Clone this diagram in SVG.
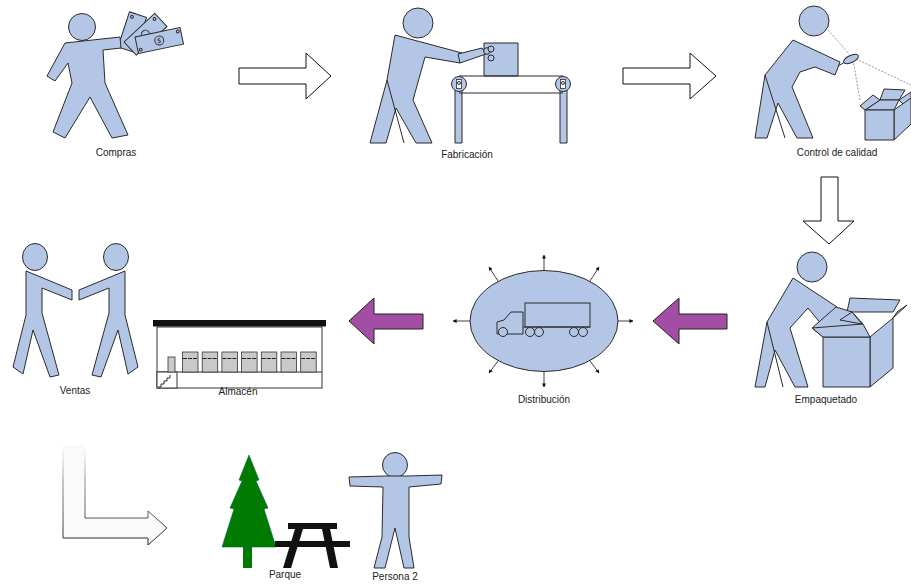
<svg xmlns="http://www.w3.org/2000/svg" width="911" height="584" viewBox="0 0 911 584">
  <defs>
    <style>
      .fig { fill: #b3c6e6; stroke: #2b2b2b; stroke-width: 1; stroke-linejoin: round; }
      .ln { fill: none; stroke: #2b2b2b; stroke-width: 1; }
      .lbl { font-family: "Liberation Sans", Arial, sans-serif; font-size: 10px; fill: #222; text-anchor: middle; }
      .blk { fill: #111; stroke: none; }
      .bigarrow { fill: #ffffff; stroke: #111; stroke-width: 1; stroke-linejoin: miter; }
      .purple { fill: #a24ea4; stroke: #222; stroke-width: 1; }
      .crate { fill: #c9c9c9; stroke: #333; stroke-width: 0.8; }
      .dot { fill: none; stroke: #777; stroke-width: 0.8; stroke-dasharray: 2 1.5; }
    </style>
    <marker id="tip" viewBox="0 0 10 10" refX="9" refY="5" markerWidth="5" markerHeight="5" orient="auto">
      <path d="M0,0 L10,5 L0,10 z" fill="#111"/>
    </marker>
    <linearGradient id="fade" x1="0" y1="445" x2="0" y2="545" gradientUnits="userSpaceOnUse">
      <stop offset="0" stop-color="#999" stop-opacity="0"/>
      <stop offset="0.35" stop-color="#777" stop-opacity="0.8"/>
      <stop offset="1" stop-color="#222" stop-opacity="1"/>
    </linearGradient>
  </defs>

  <rect width="911" height="584" fill="#ffffff"/>

  <!-- Compras: walking buyer holding a fan of bank notes -->
  <g id="compras">
    <g transform="translate(118,47) rotate(-72)">
      <rect x="0" y="0" width="37" height="18" class="fig"/>
      <circle cx="33" cy="4" r="1.4" class="ln"/>
    </g>
    <g transform="translate(124,42) rotate(-43)">
      <rect x="0" y="0" width="42" height="18" class="fig"/>
      <circle cx="21" cy="9" r="4" class="ln"/>
      <circle cx="38" cy="4" r="1.4" class="ln"/>
    </g>
    <g transform="translate(135,37) rotate(-12)">
      <rect x="0" y="0" width="46" height="17" class="fig"/>
      <circle cx="23" cy="8.5" r="4.5" class="ln"/>
      <text x="23" y="11" font-family="Liberation Sans, sans-serif" font-size="7" text-anchor="middle" fill="#222">$</text>
      <circle cx="3" cy="13.5" r="1.4" class="ln"/>
      <circle cx="43" cy="3.5" r="1.4" class="ln"/>
    </g>
    <circle cx="82" cy="27" r="13.5" class="fig"/>
    <polygon class="fig" points="65,43 120,37 121,48 103,50 105,83 128,135 112,138 90,97 65,138 53,132 72,83 68,63 55,81 47,76"/>
    <text class="lbl" x="116" y="156">Compras</text>
  </g>

  <!-- Fabricación: worker at a conveyor belt -->
  <g id="fabricacion">
    <rect x="484" y="43" width="34" height="33" class="fig"/>
    <rect x="455" y="83" width="7" height="60" class="fig"/>
    <rect x="560" y="83" width="7" height="60" class="fig"/>
    <line x1="459" y1="76" x2="563" y2="76" class="ln"/>
    <line x1="459" y1="93" x2="563" y2="93" class="ln"/>
    <circle cx="459" cy="84" r="7.5" class="fig"/>
    <circle cx="563" cy="84" r="7.5" class="fig"/>
    <rect x="456.5" y="79.5" width="5" height="9" fill="#fff" stroke="#2b2b2b" stroke-width="0.8"/>
    <rect x="560.5" y="79.5" width="5" height="9" fill="#fff" stroke="#2b2b2b" stroke-width="0.8"/>
    <circle cx="459" cy="83" r="1.5" class="ln"/>
    <circle cx="563" cy="83" r="1.5" class="ln"/>
    <circle cx="418" cy="23" r="15" class="fig"/>
    <polygon class="fig" points="395,35 462,53 460,63 425,57 413,100 432,143 416,143 396,108 386,143 370,143 387,80"/>
    <line x1="387" y1="80" x2="404" y2="143" class="ln"/>
    <path class="fig" d="M458,54 L482,48 L486,54 L460,63 z"/>
    <circle cx="487" cy="51" r="3.3" class="fig"/>
    <circle cx="491" cy="49" r="3" class="fig"/>
    <circle cx="491" cy="58" r="3" class="fig"/>
    <text class="lbl" x="467" y="158">Fabricación</text>
  </g>

  <!-- Control de calidad: inspector with a magnifier over an open box -->
  <g id="control">
    <line x1="828" y1="30" x2="849" y2="54" class="dot"/>
    <line x1="853" y1="60" x2="860" y2="100" class="dot"/>
    <line x1="856" y1="59" x2="911" y2="85" class="dot"/>
    <polygon class="fig" points="880,100 884,89 905,90 899,100"/>
    <polygon class="fig" points="899,100 911,92 911,100 903,104"/>
    <polygon class="fig" points="894,110 911,98 911,124 894,140"/>
    <polygon class="fig" points="865,110 880,100 899,100 894,110"/>
    <polygon class="fig" points="860,106 873,95 880,100 865,110"/>
    <rect x="865" y="110" width="29" height="30" class="fig"/>
    <circle cx="814" cy="21" r="15" class="fig"/>
    <polygon class="fig" points="793,40 840,62 835,75 815,67 800,72 792,87 813,138 797,138 778,103 767,138 755,138 765,75"/>
    <line x1="765" y1="75" x2="785" y2="138" class="ln"/>
    <line x1="838" y1="66" x2="845" y2="62" class="ln"/>
    <ellipse cx="851" cy="59" rx="8" ry="3.5" transform="rotate(-25 851 59)" class="fig"/>
    <text class="lbl" x="837" y="156">Control de calidad</text>
  </g>

  <!-- Empaquetado: worker packing a large box -->
  <g id="empaquetado">
    <polygon class="fig" points="850,298 900,300 893,312 847,312"/>
    <polygon class="fig" points="893,318 907,305 897,312"/>
    <polygon class="fig" points="870,337 893,318 893,368 870,387"/>
    <circle cx="812" cy="267" r="15" class="fig"/>
    <polygon class="fig" points="793,278 837,307 822,325 808,308 790,328 808,387 795,387 775,350 765,387 755,387 767,322"/>
    <line x1="767" y1="322" x2="783" y2="387" class="ln"/>
    <polygon class="fig" points="812,328 836,307 852,312 863,324 823,337"/>
    <polygon class="fig" points="840,320 852,312 862,324"/>
    <rect x="823" y="337" width="47" height="50" class="fig"/>
    <polygon class="fig" points="823,337 812,328 863,324 870,337"/>
    <text class="lbl" x="826" y="403">Empaquetado</text>
  </g>

  <!-- Distribución: lorry inside an oval with outward arrows -->
  <g id="distribucion">
    <ellipse cx="544" cy="321" rx="74" ry="50.5" class="fig"/>
    <g class="ln">
      <path d="M497,334 L497,322 L504,320 L511,312 L523,312 L523,334 z"/>
      <rect x="525" y="303" width="65" height="24"/>
      <line x1="523" y1="327" x2="590" y2="327"/>
      <circle cx="503" cy="332" r="4.5" fill="#b3c6e6"/>
      <circle cx="530" cy="332" r="4.5" fill="#b3c6e6"/>
      <circle cx="539" cy="332" r="4.5" fill="#b3c6e6"/>
      <circle cx="574" cy="332" r="4.5" fill="#b3c6e6"/>
      <circle cx="583" cy="332" r="4.5" fill="#b3c6e6"/>
    </g>
    <g stroke="#111" stroke-width="0.8" marker-end="url(#tip)">
      <line x1="544" y1="270" x2="544" y2="255"/>
      <line x1="544" y1="372" x2="544" y2="387"/>
      <line x1="470" y1="321" x2="453" y2="321"/>
      <line x1="618" y1="321" x2="633" y2="321"/>
      <line x1="498" y1="281" x2="489" y2="267"/>
      <line x1="590" y1="281" x2="599" y2="267"/>
      <line x1="498" y1="361" x2="489" y2="373"/>
      <line x1="590" y1="361" x2="599" y2="373"/>
    </g>
    <text class="lbl" x="544" y="403">Distribución</text>
  </g>

  <!-- Almacén: warehouse with a row of stored goods -->
  <g id="almacen">
    <rect x="157" y="327" width="165" height="61" fill="#fff" stroke="#333" stroke-width="1"/>
    <line x1="157" y1="372" x2="322" y2="372" class="ln"/>
    <rect x="157" y="372" width="20" height="16" fill="#fff" stroke="#333" stroke-width="1"/>
    <path class="ln" d="M158,387 L161,387 L161,384 L164,384 L164,381 L167,381 L167,378 L170,378 L170,375" stroke-width="0.8"/>
    <rect x="168" y="357" width="7" height="15" class="crate"/>
    <g id="crates">
      <rect x="182.5" y="352" width="15.5" height="20" class="crate"/>
      <rect x="202.2" y="352" width="15.5" height="20" class="crate"/>
      <rect x="221.9" y="352" width="15.5" height="20" class="crate"/>
      <rect x="241.6" y="352" width="15.5" height="20" class="crate"/>
      <rect x="261.3" y="352" width="15.5" height="20" class="crate"/>
      <rect x="281.0" y="352" width="15.5" height="20" class="crate"/>
      <rect x="300.7" y="352" width="15.5" height="20" class="crate"/>
      <path d="M183,358.5 H198 M202.7,358.5 H217.7 M222.4,358.5 H237.4 M242.1,358.5 H257.1 M261.8,358.5 H276.8 M281.5,358.5 H296.5 M301.2,358.5 H316.2" stroke="#222" stroke-width="1" stroke-dasharray="4 1"/>
    </g>
    <rect x="153" y="320" width="173" height="6.5" class="blk"/>
    <text class="lbl" x="238" y="395">Almacén</text>
  </g>

  <!-- Ventas: two people shaking hands -->
  <g id="ventas">
    <ellipse cx="35" cy="257" rx="12.5" ry="13.5" class="fig"/>
    <polygon class="fig" points="26,271 72,290 72,300 42,288 42,313 59,375 50,377 33,330 23,374 13,367 26,315"/>
    <g transform="translate(151,0) scale(-1,1)">
      <ellipse cx="35" cy="257" rx="12.5" ry="13.5" class="fig"/>
      <polygon class="fig" points="26,271 72,290 72,300 42,288 42,313 59,375 50,377 33,330 23,374 13,367 26,315"/>
    </g>
    <text class="lbl" x="75" y="394">Ventas</text>
  </g>

  <!-- Parque: fir tree and picnic table -->
  <g id="parque">
    <rect x="243" y="545" width="9" height="23" fill="#007a00"/>
    <polygon fill="#007a00" stroke="#064" stroke-width="0.6" points="249,455 259,480 256,481 268,508 264,509 276,547 222,547 234,509 230,508 242,481 239,480"/>
    <rect x="288" y="523" width="49" height="6" class="blk"/>
    <rect x="275" y="541" width="75" height="6" class="blk"/>
    <polygon class="blk" points="295,529 303,529 291,568 283,568"/>
    <polygon class="blk" points="322,529 330,529 338,568 330,568"/>
    <text class="lbl" x="285" y="578">Parque</text>
  </g>

  <!-- Persona 2: standing person with arms spread -->
  <g id="persona2">
    <circle cx="395" cy="465" r="12.5" class="fig"/>
    <polygon class="fig" points="349,477 385,476 408,476 442,475 441,484 409,487 409,537 414,568 404,568 395,528 385,568 374,568 382,537 383,487 350,486"/>
    <text class="lbl" x="395" y="580">Persona 2</text>
  </g>

  <!-- Connectors between the stages -->
  <g id="connectors">
    <polygon class="bigarrow" points="239,68 306,68 306,53 331,76 306,99 306,84 239,84"/>
    <polygon class="bigarrow" points="623,68 690,68 690,53 716,76 690,99 690,84 623,84"/>
    <polygon class="bigarrow" points="821,177 838,177 838,221 854,221 829,244 803,221 821,221"/>
    <polygon class="purple" points="349,321 374,298 374,314 423,314 423,329 374,329 374,344"/>
    <polygon class="purple" points="653,321 679,298 679,314 727,314 727,329 679,329 679,344"/>
    <path d="M63,445 L63,538 L148,538 L148,545 L167,528 L148,511 L148,518 L85,518 L85,445" fill="#fafafa" stroke="url(#fade)" stroke-width="1"/>
  </g>
</svg>
